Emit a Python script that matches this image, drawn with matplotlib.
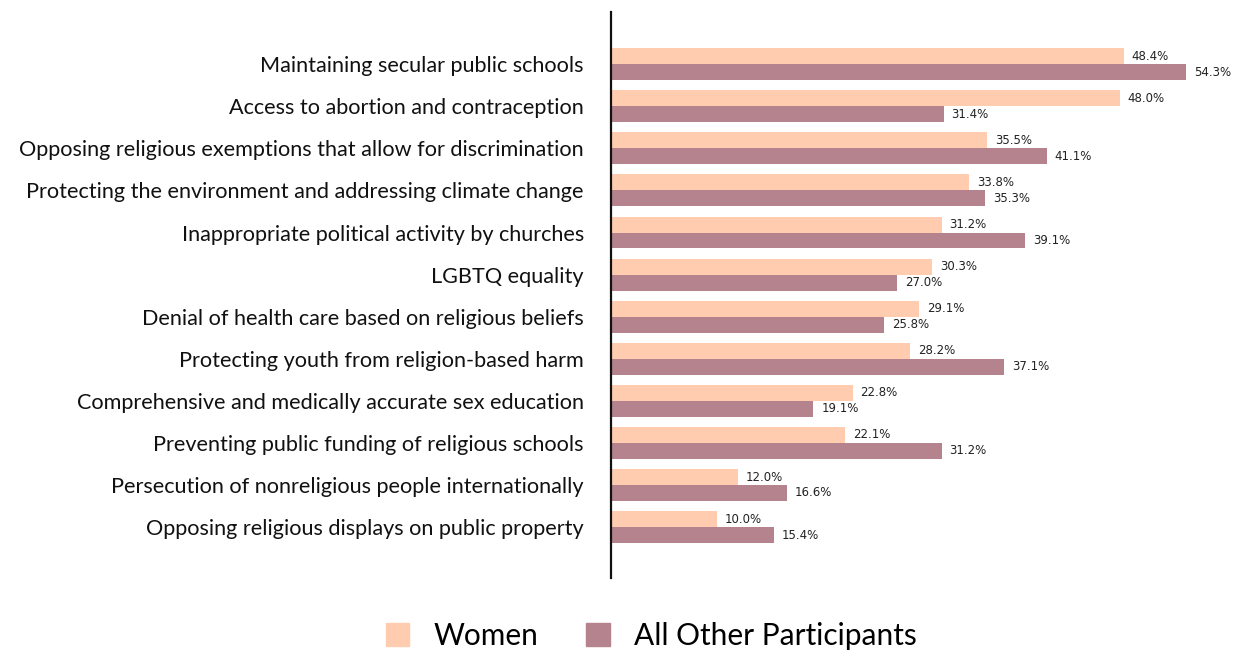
import matplotlib.pyplot as plt
import numpy as np
from matplotlib.patches import Patch

issues = [
    "Maintaining secular public schools",
    "Access to abortion and contraception",
    "Opposing religious exemptions that allow for discrimination",
    "Protecting the environment and addressing climate change",
    "Inappropriate political activity by churches",
    "LGBTQ equality",
    "Denial of health care based on religious beliefs",
    "Protecting youth from religion-based harm",
    "Comprehensive and medically accurate sex education",
    "Preventing public funding of religious schools",
    "Persecution of nonreligious people internationally",
    "Opposing religious displays on public property",
]
women = [48.4, 48.0, 35.5, 33.8, 31.2, 30.3, 29.1, 28.2, 22.8, 22.1, 12.0, 10.0]
others = [54.3, 31.4, 41.1, 35.3, 39.1, 27.0, 25.8, 37.1, 19.1, 31.2, 16.6, 15.4]

c_women = "#FFCCB0"
c_others = "#B5838D"

fig = plt.figure(figsize=(12.33, 6.51), dpi=100)
ax = fig.add_axes([611 / 1233, 73 / 651, 622 / 1233, 566 / 651])

y = np.arange(len(issues))
h = 0.38
ax.barh(y - h / 2, women, height=h, color=c_women)
ax.barh(y + h / 2, others, height=h, color=c_others)

lab_font = dict(family=["Liberation Sans Narrow", "DejaVu Sans"], fontsize=8.5, color="#222222")
for i in range(len(issues)):
    ax.text(women[i] + 0.75, y[i] - h / 2, f"{women[i]:.1f}%", va="center", ha="left", **lab_font)
    ax.text(others[i] + 0.75, y[i] + h / 2, f"{others[i]:.1f}%", va="center", ha="left", **lab_font)

ax.set_xlim(0, 58.7)
ax.set_ylim(len(issues) - 1 + 1.21, -1.24)
ax.set_yticks(y)
ax.set_yticklabels(issues, fontsize=15.6, family=["Lato", "DejaVu Sans"], color="#111111")
ax.tick_params(axis="y", length=0, pad=19.5)
ax.set_xticks([])
for s in ["top", "right", "bottom"]:
    ax.spines[s].set_visible(False)
ax.spines["left"].set_linewidth(1.6)
ax.spines["left"].set_color("#111111")

handles = [Patch(color=c_women, label="Women"), Patch(color=c_others, label="All Other Participants")]
fig.legend(handles=handles, loc="lower center", bbox_to_anchor=(0.528, -0.04), ncol=2,
           frameon=False, prop={"family": ["Lato", "DejaVu Sans"], "size": 21.5},
           handlelength=0.8, handleheight=0.8, columnspacing=1.6, handletextpad=0.8)

fig.savefig("out.png", dpi=100)
